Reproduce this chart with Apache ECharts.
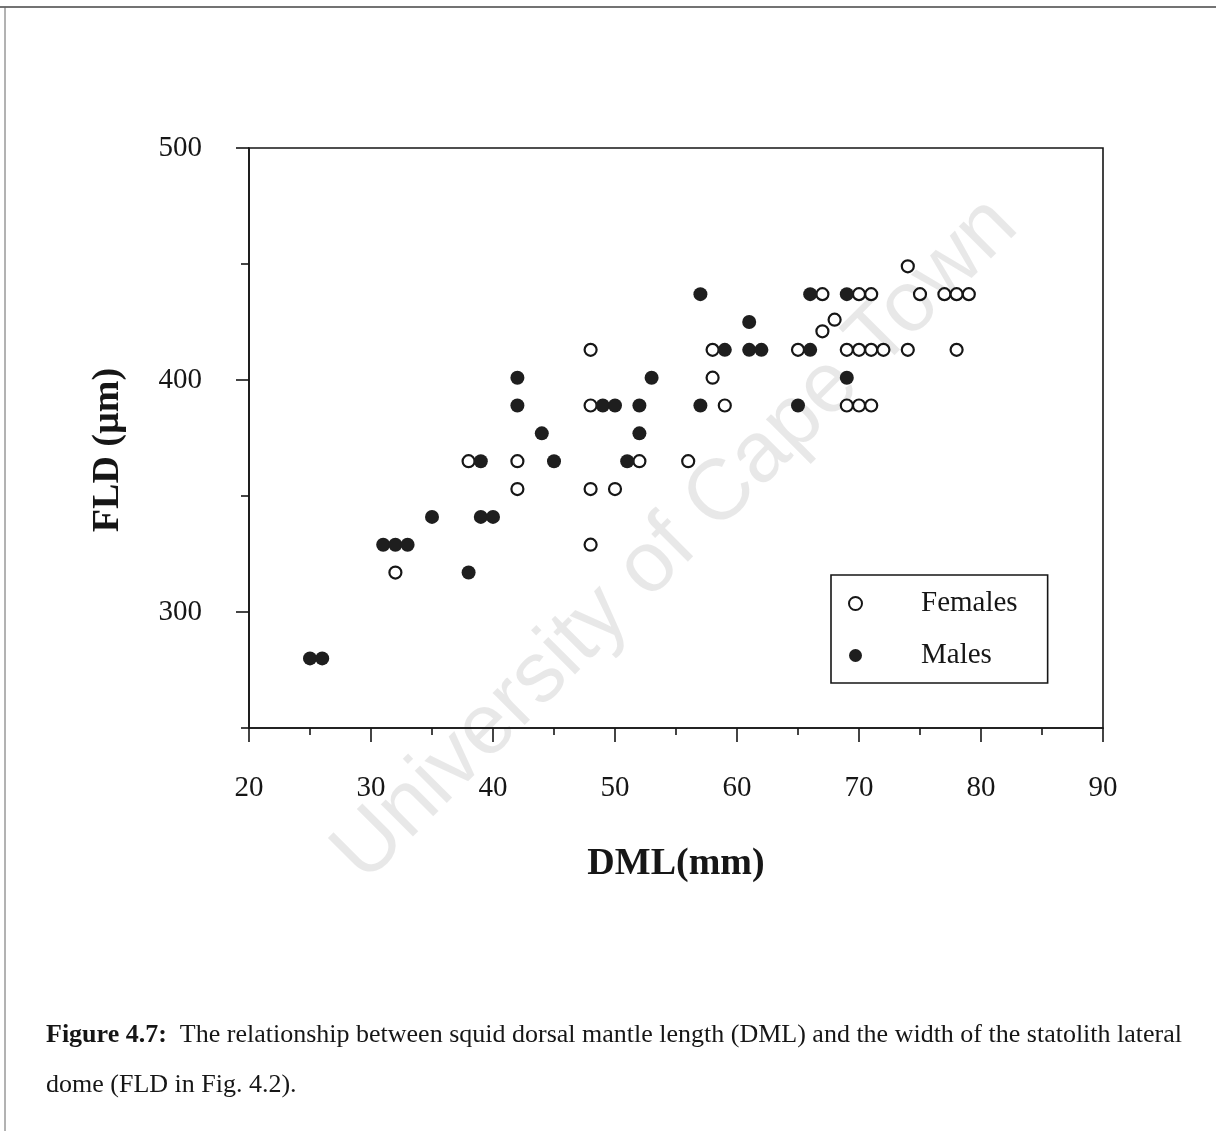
<!DOCTYPE html>
<html>
<head>
<meta charset="utf-8">
<title>FLD vs DML</title>
<script src="https://cdn.jsdelivr.net/npm/echarts@6/dist/echarts.min.js"></script>
<style>
  html, body { margin: 0; padding: 0; background: #fff; }
  #chart { width: 1216px; height: 1131px; }
</style>
</head>
<body>
<div id="chart"></div>
<script>
// Dorsal mantle length (mm) and statolith lateral dome width (µm)
const femaleDML = [32, 48, 42, 48, 50, 38, 42, 52, 56, 48, 59, 69, 70, 71, 58, 48, 58, 65, 69, 70, 71, 72, 74, 78, 67, 68, 67, 70, 71, 75, 77, 78, 79, 74];
const femaleFLD = [317, 329, 353, 353, 353, 365, 365, 365, 365, 389, 389, 389, 389, 389, 401, 413, 413, 413, 413, 413, 413, 413, 413, 413, 421, 426, 437, 437, 437, 437, 437, 437, 437, 449];

const maleDML = [25, 26, 38, 31, 32, 33, 35, 39, 40, 39, 45, 51, 44, 52, 42, 49, 50, 52, 57, 65, 42, 53, 69, 59, 61, 62, 66, 61, 57, 66, 69];
const maleFLD = [280, 280, 317, 329, 329, 329, 341, 341, 341, 365, 365, 365, 377, 377, 389, 389, 389, 389, 389, 389, 401, 401, 401, 413, 413, 413, 413, 425, 437, 437, 437];

const seriesNames = ['Females', 'Males'];
const xRange = [20, 90];
const yRange = [250, 500];
const yLabelValues = [300, 400, 500];
const yMinorTickValues = [250, 350, 450];

const xAxisTitle = 'DML(mm)';
const yAxisTitle = 'FLD (µm)';
const captionLine1 = '{b|Figure 4.7:}  The relationship between squid dorsal mantle length (DML) and the width of the statolith lateral';
const captionLine2 = 'dome (FLD in Fig. 4.2).';
const watermarkText = 'University of Cape Town';

const pairs = (xs, ys) => xs.map((x, i) => [x, ys[i]]);

const serif = '"Liberation Serif", "Times New Roman", serif';
const ink = '#161616';

const chart = echarts.init(document.getElementById('chart'), null, { renderer: 'canvas' });

chart.setOption({
  backgroundColor: '#ffffff',
  animation: false,
  grid: {
    left: 249, top: 148, right: 113, bottom: 403,
    show: true, borderColor: ink, borderWidth: 1.6, backgroundColor: 'transparent'
  },
  xAxis: {
    type: 'value', min: xRange[0], max: xRange[1], interval: 10,
    name: xAxisTitle, nameLocation: 'middle', nameGap: 117,
    nameTextStyle: { fontFamily: serif, fontWeight: 'bold', fontSize: 38, color: ink },
    axisLine: { show: true, onZero: false, lineStyle: { color: ink, width: 1.6 } },
    axisTick: { show: true, inside: false, length: 14, lineStyle: { color: ink, width: 1.6 } },
    minorTick: { show: true, splitNumber: 2, length: 7, lineStyle: { color: ink, width: 1.6 } },
    axisLabel: { fontFamily: serif, fontSize: 29, color: ink, margin: 46 },
    splitLine: { show: false }
  },
  yAxis: [
    {
      type: 'value', min: yRange[0], max: yRange[1], interval: 50,
      name: yAxisTitle, nameLocation: 'middle', nameGap: 122, nameRotate: 90,
      nameTextStyle: { fontFamily: serif, fontWeight: 'bold', fontSize: 38, color: ink, padding: [0, 24, 0, 0] },
      axisLine: { show: true, onZero: false, lineStyle: { color: ink, width: 1.6 } },
      axisTick: { show: true, length: 13, customValues: yLabelValues, lineStyle: { color: ink, width: 1.6 } },
      axisLabel: { fontFamily: serif, fontSize: 29, color: ink, margin: 47, padding: [8, 0, 0, 0], customValues: yLabelValues },
      splitLine: { show: false }
    },
    {
      type: 'value', min: yRange[0], max: yRange[1], interval: 50, position: 'left',
      axisLine: { show: false },
      axisTick: { show: true, length: 8, customValues: yMinorTickValues, lineStyle: { color: ink, width: 1.6 } },
      axisLabel: { show: false },
      splitLine: { show: false }
    }
  ],
  legend: {
    orient: 'vertical',
    left: 831, top: 575,
    data: seriesNames,
    itemWidth: 13, itemHeight: 13, itemGap: 23,
    padding: [14, 30, 13, 17],
    borderColor: ink, borderWidth: 1.6, backgroundColor: '#fff',
    textStyle: { fontFamily: serif, fontSize: 29, color: ink, padding: [0, 0, 0, 54] },
    selectedMode: false
  },
  graphic: [
    { type: 'line', shape: { x1: 0, y1: 7, x2: 1216, y2: 7 }, style: { stroke: '#444', lineWidth: 1.5 }, silent: true },
    { type: 'line', shape: { x1: 5, y1: 7, x2: 5, y2: 1131 }, style: { stroke: '#666', lineWidth: 1 }, silent: true },
    {
      type: 'text', x: 676, y: 540, rotation: Math.PI / 4, z: -10, silent: true,
      style: {
        text: watermarkText, align: 'center', verticalAlign: 'middle',
        fontFamily: '"Liberation Sans", Arial, sans-serif', fontSize: 86,
        fill: 'rgba(0,0,0,0.09)'
      }
    },
    {
      type: 'text', x: 46, y: 1035, silent: true,
      style: {
        text: captionLine1, verticalAlign: 'middle',
        fontFamily: serif, fontSize: 26, fill: ink,
        rich: { b: { fontFamily: serif, fontSize: 26, fontWeight: 'bold', fill: ink } }
      }
    },
    {
      type: 'text', x: 46, y: 1085, silent: true,
      style: { text: captionLine2, verticalAlign: 'middle', fontFamily: serif, fontSize: 26, fill: ink }
    }
  ],
  series: [
    {
      name: seriesNames[0], type: 'scatter', yAxisIndex: 0,
      data: pairs(femaleDML, femaleFLD),
      symbol: 'circle', symbolSize: 12,
      itemStyle: { color: '#fff', borderColor: ink, borderWidth: 2.2, opacity: 1 },
      z: 3
    },
    {
      name: seriesNames[1], type: 'scatter', yAxisIndex: 0,
      data: pairs(maleDML, maleFLD),
      symbol: 'circle', symbolSize: 14,
      itemStyle: { color: '#1e1e1e', opacity: 1 },
      z: 4
    }
  ]
});
</script>
</body>
</html>
